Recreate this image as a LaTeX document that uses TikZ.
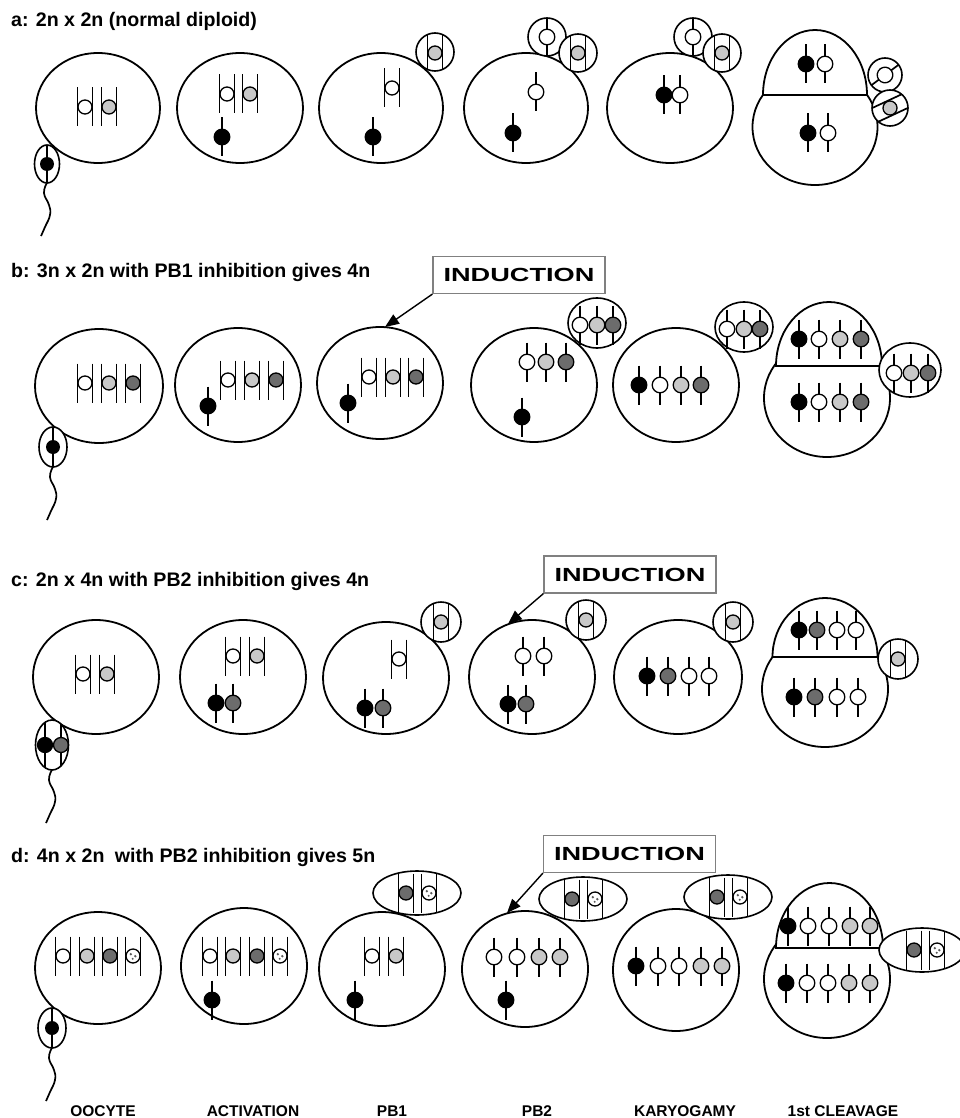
\documentclass[tikz,border=0pt]{standalone}
\usepackage{fontspec}
\setmainfont{Liberation Sans}
\usetikzlibrary{arrows.meta}
\definecolor{lightchr}{RGB}{200,200,200}
\definecolor{darkchr}{RGB}{108,108,108}

\tikzset{
  egg/.style={draw, line width=1.8pt},
  pbody/.style={draw, fill=white, line width=1.6pt},
  chline/.style={line width=1.7pt},
  bead/.style={draw, line width=1.3pt},
  chwhite/.style={bead, fill=white},
  chlight/.style={bead, fill=lightchr},
  chdark/.style={bead, fill=darkchr},
  chblack/.style={bead, fill=black},
  chspot/.style={bead, fill=white, path picture={
      \fill[black!65] ([shift={(-2.2,-1.8)}]path picture bounding box.center) circle (1.3);
      \fill[black!65] ([shift={(2.3,0.2)}]path picture bounding box.center) circle (1.3);
      \fill[black!65] ([shift={(-0.3,2.8)}]path picture bounding box.center) circle (1.1);}},
  rowtitle/.style={anchor=base west, inner sep=0pt, font=\fontsize{19.6}{22}\selectfont\bfseries},
  stage/.style={anchor=base, inner sep=0pt, font=\fontsize{15.5}{18}\selectfont\bfseries},
  induction/.style={draw=black!50, line width=1.2pt, fill=white, inner sep=0pt,
      minimum width=172pt, minimum height=37pt, font=\fontsize{19}{22}\selectfont\bfseries},
  induct/.style={-{Triangle[length=14pt,width=11pt]}, line width=1.4pt}
}

% one chromatid on its spindle line
\newcommand{\singlechr}[3]{%
  \draw[chline] (#1,#2-19.5) -- (#1,#2+19.5);
  \draw[#3] (#1,#2) circle (7.8);}
% chromosome held between its two sister lines
\newcommand{\pairchr}[3]{%
  \draw[chline] (#1-7.5,#2-19.5) -- (#1-7.5,#2+19.5)
                (#1+7.5,#2-19.5) -- (#1+7.5,#2+19.5);
  \draw[#3] (#1,#2) circle (7);}
\newcommand{\spermtail}[2]{%
  \draw[chline] plot[smooth, tension=0.8] coordinates
    {(#1,#2) (#1-3,#2+10) (#1+2,#2+22) (#1+3,#2+32) (#1-2,#2+44) (#1-6,#2+53)};}
\newcommand{\induction}{\scalebox{1.43}[1]{INDUCTION}}

\begin{document}
\begin{tikzpicture}[x=1pt, y=-1pt]
\useasboundingbox[fill=white] (0,0) rectangle (959,1118);

% ---------------- a ----------------
\node[rowtitle] (ta) at (11,27) {a: 2n x 2n (normal diploid)};

\draw[egg] (98,108) ellipse [x radius=62, y radius=55];
\pairchr{85}{107}{chwhite} \pairchr{109}{107}{chlight}
\draw[pbody] (47,164) ellipse [x radius=12.5, y radius=19];
\draw[chline] (47,145) -- (47,183);
\fill (47,164) circle (7);
\spermtail{47}{183}

\draw[egg] (240,108) ellipse [x radius=63, y radius=55];
\pairchr{227}{94}{chwhite} \pairchr{250}{94}{chlight}
\singlechr{222}{137}{chblack}

\draw[egg] (381,108) ellipse [x radius=62, y radius=55];
\pairchr{392}{88}{chwhite}
\singlechr{373}{137}{chblack}
\begin{scope}
  \draw[pbody] (435,52) circle (19); \clip (435,52) circle (19);
  \pairchr{435}{53}{chlight}
\end{scope}

\draw[egg] (526,108) ellipse [x radius=62, y radius=55];
\singlechr{536}{92}{chwhite}
\singlechr{513}{133}{chblack}
\begin{scope}
  \draw[pbody] (547,37) circle (19); \clip (547,37) circle (19);
  \singlechr{547}{37}{chwhite}
\end{scope}
\begin{scope}
  \draw[pbody] (578,53) circle (19); \clip (578,53) circle (19);
  \pairchr{578}{53}{chlight}
\end{scope}

\draw[egg] (670,108) ellipse [x radius=63, y radius=55];
\singlechr{664}{95}{chblack} \singlechr{680}{95}{chwhite}
\begin{scope}
  \draw[pbody] (693,37) circle (19); \clip (693,37) circle (19);
  \singlechr{693}{37}{chwhite}
\end{scope}
\begin{scope}
  \draw[pbody] (722,53) circle (19); \clip (722,53) circle (19);
  \pairchr{722}{53}{chlight}
\end{scope}

% two-cell stage
\draw[egg] (815,127) ellipse [x radius=62.5, y radius=58];
\draw[egg, fill=white] (763,95) arc [start angle=180, end angle=360, x radius=52, y radius=65] -- cycle;
\singlechr{806}{64}{chblack} \singlechr{825}{64}{chwhite}
\singlechr{808}{133}{chblack} \singlechr{828}{133}{chwhite}
\begin{scope}
  \draw[pbody] (885,75) circle (17); \clip (885,75) circle (17);
  \begin{scope}[shift={(885,75)}, rotate=-53] \singlechr{0}{0}{chwhite} \end{scope}
\end{scope}
\begin{scope}
  \draw[pbody] (890,108) circle (18); \clip (890,108) circle (18);
  \begin{scope}[shift={(890,108)}, rotate=-65] \pairchr{0}{0}{chlight} \end{scope}
\end{scope}

% ---------------- b ----------------
\node[rowtitle] (tb) at (11,277) {b: 3n x 2n with PB1 inhibition gives 4n};
\node[induction] (bInd) at (519,275) {\induction};
\coordinate (bTip) at (385,327);
\draw[induct] (bInd.south west) -- (bTip);

\draw[egg] (99,386) ellipse [x radius=64, y radius=57];
\pairchr{85}{383}{chwhite} \pairchr{109}{383}{chlight} \pairchr{133}{383}{chdark}
\draw[pbody] (53,447) ellipse [x radius=14, y radius=20];
\draw[chline] (53,427) -- (53,467);
\fill (53,447) circle (7);
\spermtail{53}{467}

\draw[egg] (238,385) ellipse [x radius=63, y radius=57];
\pairchr{228}{380}{chwhite} \pairchr{252}{380}{chlight} \pairchr{276}{380}{chdark}
\singlechr{208}{406}{chblack}

\draw[egg] (380,383) ellipse [x radius=63, y radius=56];
\pairchr{369}{377}{chwhite} \pairchr{393}{377}{chlight} \pairchr{416}{377}{chdark}
\singlechr{348}{403}{chblack}

\draw[egg] (534,385) ellipse [x radius=63, y radius=57];
\singlechr{527}{362}{chwhite} \singlechr{546}{362}{chlight} \singlechr{566}{362}{chdark}
\singlechr{522}{417}{chblack}
\draw[pbody] (597,323) ellipse [x radius=29, y radius=25];
\singlechr{580}{325}{chwhite} \singlechr{597}{325}{chlight} \singlechr{613}{325}{chdark}

\draw[egg] (676,385) ellipse [x radius=63, y radius=57];
\singlechr{639}{385}{chblack} \singlechr{660}{385}{chwhite}
\singlechr{681}{385}{chlight} \singlechr{701}{385}{chdark}
\draw[pbody] (744,327) ellipse [x radius=29, y radius=25];
\singlechr{727}{329}{chwhite} \singlechr{744}{329}{chlight} \singlechr{760}{329}{chdark}

\draw[egg] (827,398) ellipse [x radius=63, y radius=59];
\draw[egg, fill=white] (776,366) arc [start angle=180, end angle=360, x radius=53, y radius=64] -- cycle;
\singlechr{799}{339}{chblack} \singlechr{819}{339}{chwhite}
\singlechr{840}{339}{chlight} \singlechr{861}{339}{chdark}
\singlechr{799}{402}{chblack} \singlechr{819}{402}{chwhite}
\singlechr{840}{402}{chlight} \singlechr{861}{402}{chdark}
\draw[pbody] (910,370) ellipse [x radius=31, y radius=27];
\singlechr{894}{373}{chwhite} \singlechr{911}{373}{chlight} \singlechr{928}{373}{chdark}

% ---------------- c ----------------
\node[rowtitle] (tc) at (11,586) {c: 2n x 4n with PB2 inhibition gives 4n};
\node[induction] (cInd) at (630,574.5) {\induction};
\coordinate (cTip) at (508,624);
\draw[induct] (cInd.south west) -- (cTip);

\draw[egg] (96,677) ellipse [x radius=63, y radius=57];
\pairchr{83}{674}{chwhite} \pairchr{107}{674}{chlight}
\begin{scope}
  \fill[white] (52,745) ellipse [x radius=16.5, y radius=25];
  \clip (52,745) ellipse [x radius=16.5, y radius=25];
  \draw[chline] (45,715) -- (45,775) (61,715) -- (61,775);
  \draw[chblack] (45,745) circle (7.5);
  \draw[chdark] (61,745) circle (7.5);
\end{scope}
\draw[line width=1.6pt] (52,745) ellipse [x radius=16.5, y radius=25];
\spermtail{52}{770}

\draw[egg] (243,677) ellipse [x radius=63, y radius=57];
\pairchr{233}{656}{chwhite} \pairchr{257}{656}{chlight}
\singlechr{216}{703}{chblack} \singlechr{233}{703}{chdark}

\draw[egg] (386,678) ellipse [x radius=63, y radius=56];
\pairchr{399}{659}{chwhite}
\singlechr{365}{708}{chblack} \singlechr{383}{708}{chdark}
\begin{scope}
  \draw[pbody] (441,622) circle (20); \clip (441,622) circle (20);
  \pairchr{441}{622}{chlight}
\end{scope}

\draw[egg] (532,677) ellipse [x radius=63, y radius=57];
\singlechr{523}{656}{chwhite} \singlechr{544}{656}{chwhite}
\singlechr{508}{704}{chblack} \singlechr{526}{704}{chdark}
\begin{scope}
  \draw[pbody] (586,620) circle (20); \clip (586,620) circle (20);
  \pairchr{586}{620}{chlight}
\end{scope}

\draw[egg] (678,677) ellipse [x radius=64, y radius=57];
\singlechr{647}{676}{chblack} \singlechr{668}{676}{chdark}
\singlechr{689}{676}{chwhite} \singlechr{709}{676}{chwhite}
\begin{scope}
  \draw[pbody] (733,622) circle (20); \clip (733,622) circle (20);
  \pairchr{733}{622}{chlight}
\end{scope}

\draw[egg] (825,689) ellipse [x radius=63, y radius=58];
\draw[egg, fill=white] (772.5,657) arc [start angle=180, end angle=360, x radius=52.5, y radius=59] -- cycle;
\singlechr{799}{630}{chblack} \singlechr{817}{630}{chdark}
\singlechr{837}{630}{chwhite} \singlechr{856}{630}{chwhite}
\singlechr{794}{697}{chblack} \singlechr{815}{697}{chdark}
\singlechr{837}{697}{chwhite} \singlechr{858}{697}{chwhite}
\begin{scope}
  \draw[pbody] (898,659) circle (20); \clip (898,659) circle (20);
  \pairchr{898}{659}{chlight}
\end{scope}

% ---------------- d ----------------
\node[rowtitle] (td) at (11,862) {d: 4n x 2n\hspace{5pt} with PB2 inhibition gives 5n};
\node[induction] (dInd) at (629.5,854) {\induction};
\coordinate (dTip) at (507,913);
\draw[induct] (dInd.south west) -- (dTip);

\draw[egg] (98,968) ellipse [x radius=63, y radius=56];
\pairchr{63}{956}{chwhite} \pairchr{87}{956}{chlight}
\pairchr{110}{956}{chdark} \pairchr{133}{956}{chspot}
\draw[pbody] (52,1028) ellipse [x radius=14, y radius=20];
\draw[chline] (52,1008) -- (52,1048);
\fill (52,1028) circle (7);
\spermtail{52}{1048}

\draw[egg] (244,966) ellipse [x radius=63, y radius=58];
\pairchr{210}{956}{chwhite} \pairchr{233}{956}{chlight}
\pairchr{257}{956}{chdark} \pairchr{280}{956}{chspot}
\singlechr{212}{1000}{chblack}

\draw[egg] (382,969) ellipse [x radius=63, y radius=57];
\pairchr{372}{956}{chwhite} \pairchr{396}{956}{chlight}
\singlechr{355}{1000}{chblack}
\begin{scope}
  \draw[pbody] (417,893) ellipse [x radius=44, y radius=22];
  \clip (417,893) ellipse [x radius=44, y radius=22];
  \pairchr{406}{893}{chdark} \pairchr{429}{893}{chspot}
\end{scope}

\draw[egg] (525,969) ellipse [x radius=63, y radius=58];
\singlechr{494}{957}{chwhite} \singlechr{517}{957}{chwhite}
\singlechr{539}{957}{chlight} \singlechr{560}{957}{chlight}
\singlechr{506}{1000}{chblack}
\begin{scope}
  \draw[pbody] (583,899) ellipse [x radius=44, y radius=22];
  \clip (583,899) ellipse [x radius=44, y radius=22];
  \pairchr{572}{899}{chdark} \pairchr{595}{899}{chspot}
\end{scope}

\draw[egg] (676,970) ellipse [x radius=63, y radius=61];
\singlechr{636}{966}{chblack} \singlechr{658}{966}{chwhite} \singlechr{679}{966}{chwhite}
\singlechr{701}{966}{chlight} \singlechr{722}{966}{chlight}
\begin{scope}
  \draw[pbody] (728,897) ellipse [x radius=44, y radius=22];
  \clip (728,897) ellipse [x radius=44, y radius=22];
  \pairchr{717}{897}{chdark} \pairchr{740}{897}{chspot}
\end{scope}

\draw[egg] (827,979) ellipse [x radius=63, y radius=59];
\draw[egg, fill=white] (776,948) arc [start angle=180, end angle=360, x radius=53.5, y radius=65] -- cycle;
\singlechr{788}{926}{chblack} \singlechr{808}{926}{chwhite} \singlechr{829}{926}{chwhite}
\singlechr{850}{926}{chlight} \singlechr{870}{926}{chlight}
\singlechr{786}{983}{chblack} \singlechr{807}{983}{chwhite} \singlechr{828}{983}{chwhite}
\singlechr{849}{983}{chlight} \singlechr{870}{983}{chlight}
\begin{scope}
  \draw[pbody] (922,950) ellipse [x radius=43, y radius=22];
  \clip (922,950) ellipse [x radius=43, y radius=22];
  \pairchr{914}{950}{chdark} \pairchr{937}{950}{chspot}
\end{scope}

% stage names
\node[stage] (sOocyte) at (103,1116) {OOCYTE};
\node[stage] (sAct) at (253,1116) {ACTIVATION};
\node[stage] (sPb1) at (392,1116) {PB1};
\node[stage] (sPb2) at (537,1116) {PB2};
\node[stage] (sKary) at (685,1116) {KARYOGAMY};
\node[stage] (sCleave) at (843,1116) {1st CLEAVAGE};
\end{tikzpicture}
\end{document}
